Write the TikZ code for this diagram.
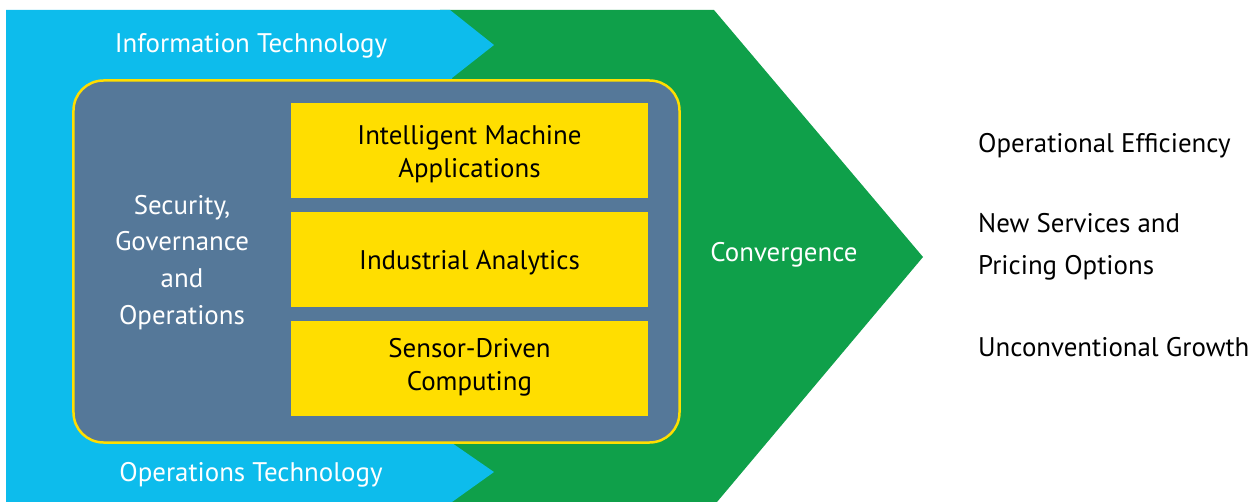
\documentclass[tikz,border=0pt]{standalone}
\usepackage{fontspec}
\setmainfont{PT Sans}
\definecolor{itblue}{HTML}{0DBCEC}
\definecolor{convgreen}{HTML}{0FA04A}
\definecolor{slate}{HTML}{557899}
\definecolor{ybox}{HTML}{FFDE00}
\begin{document}
\begin{tikzpicture}[x=1bp,y=-1bp,
  lbl/.style={font=\fontsize{27}{33}\selectfont, align=center, inner sep=0pt},
  wlbl/.style={lbl, text=white},
  blbl/.style={lbl, text=black},
  ybx/.style={fill=ybox, draw=none, minimum width=357bp, minimum height=95bp, inner sep=0pt},
  outc/.style={font=\fontsize{27}{42}\selectfont, align=left, anchor=west, inner sep=0pt, text=black}]
\useasboundingbox (0,0) rectangle (1254,502);
% green convergence arrow
\fill[convgreen] (440,10) -- (714,10) -- (923,257) -- (717,502) -- (440,502) -- cycle;
% blue IT/OT shape
\fill[itblue] (6,10) -- (450,10) -- (494,45) -- (452,78) -- (452,443) -- (494,472) -- (452,502) -- (6,502) -- cycle;
% inner rounded panel
\node[draw=ybox, line width=2.5bp, fill=slate, rounded corners=30bp, minimum width=606bp, minimum height=362bp, inner sep=0pt] (panel) at (376.5,261.5) {};
\node[ybx] (ima) at (469.5,150.5) {};
\node[ybx] (ia) at (469.5,259.5) {};
\node[ybx] (sdc) at (469.5,368.5) {};
\node[blbl] (imat) at (469.5,154.5) {Intelligent Machine\\Applications};
\node[blbl] (iat) at (469.5,262.5) {Industrial Analytics};
\node[blbl] (sdct) at (469.5,367.5) {Sensor-Driven\\Computing};
\node[wlbl, font=\fontsize{27}{37}\selectfont] (sgo) at (182,262.5) {Security,\\Governance\\and\\Operations};
\node[wlbl] (it) at (251,45.5) {Information Technology};
\node[wlbl] (ot) at (251,474.5) {Operations Technology};
\node[wlbl] (conv) at (784,254.5) {Convergence};
\node[outc] (oe) at (978,145.5) {Operational Efficiency};
\node[outc] (ns) at (978,246.5) {New Services and\\Pricing Options};
\node[outc] (ug) at (978,347.5) {Unconventional Growth};
\end{tikzpicture}
\end{document}
